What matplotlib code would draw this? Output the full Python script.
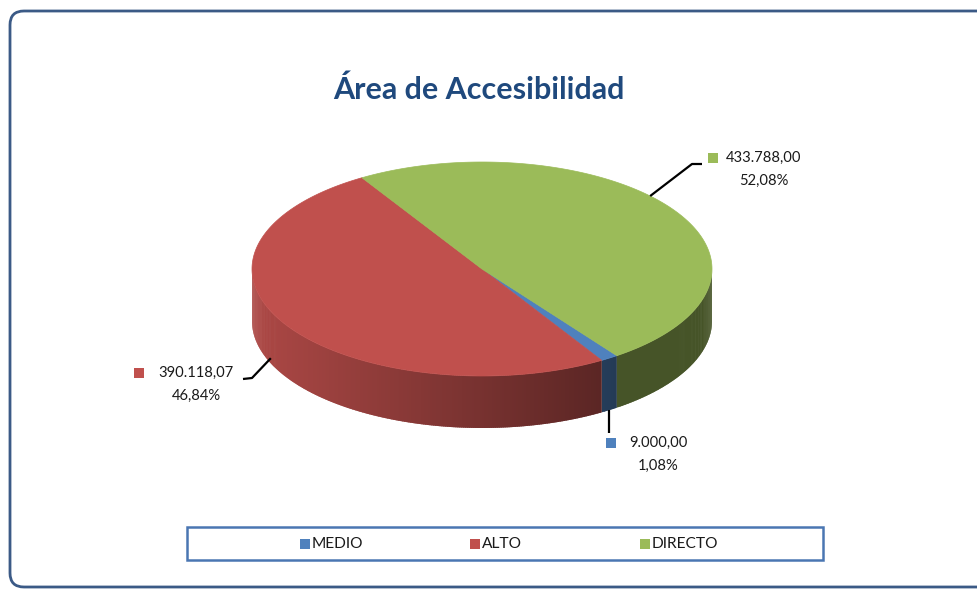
import numpy as np
import matplotlib.pyplot as plt
from matplotlib.colors import to_rgb
from matplotlib.patches import Polygon, Rectangle, FancyBboxPatch

plt.rcParams['font.family'] = ['Lato', 'DejaVu Sans']

titulo = 'Área de Accesibilidad'
categorias = ['MEDIO', 'ALTO', 'DIRECTO']
valores = [9000.00, 390118.07, 433788.00]
colores = ['#4F81BD', '#C0504D', '#9BBB59']

# geometria del pastel 3d (en pixeles)
cx, cy, rx, ry, prof = 482, 269, 230, 107, 52
inicio = 300.5   # angulo donde empieza MEDIO, sentido horario
k = 0.185        # deformacion de perspectiva


def warp(th):
    r = np.radians(th)
    return np.degrees(r + k * np.cos(r))


def borde(t, dz=0.0):
    r = np.radians(t)
    return cx + rx * np.cos(r), cy - ry * np.sin(r) + dz


def fmt_num(v):
    s = f"{v:,.2f}"
    return s.replace(',', 'X').replace('.', ',').replace('X', '.')


def fmt_pct(p):
    return f"{p * 100:.2f}".replace('.', ',') + '%'


fig = plt.figure(figsize=(9.78, 5.90), dpi=100)
ax = fig.add_axes([0, 0, 1, 1])
ax.set_xlim(0, 978)
ax.set_ylim(590, 0)
ax.axis('off')

# marco exterior
ax.add_patch(FancyBboxPatch((10, 11), 1000, 576, boxstyle='round,pad=0,rounding_size=14',
                            fc='white', ec='#3B5A86', lw=2.0, zorder=0))

total = sum(valores)
rangos = []
acum = inicio
for v in valores:
    th1 = acum
    th2 = acum - v / total * 360
    rangos.append((th2, th1))
    acum = th2

# paredes laterales (solo la mitad frontal), franjas solapadas para evitar costuras
for (th2, th1), col in zip(rangos, colores):
    t2, t1 = warp(th2), warp(th1)
    base = np.array(to_rgb(col))
    ts = np.linspace(t2, t1, max(int(abs(t1 - t2) * 2), 2))
    paso = ts[1] - ts[0]
    for ta, tb in zip(ts[:-1], ts[1:]):
        tm = (ta + tb) / 2
        if np.sin(np.radians(tm)) >= 0:
            continue
        f = max(0.45, 0.9 - 0.42 * (1 + np.cos(np.radians(tm))) / 1.5)
        c = np.clip(base * f, 0, 1)
        tb2 = min(tb + paso * 0.8, t1)
        seg = np.linspace(ta, tb2, 4)
        arriba = [borde(t) for t in seg]
        abajo = [borde(t, prof) for t in seg[::-1]]
        ax.add_patch(Polygon(arriba + abajo, closed=True, fc=c, ec='none', zorder=2))

# caras superiores
for (th2, th1), col in zip(rangos, colores):
    ts = np.linspace(warp(th2), warp(th1), 200)
    pts = [(cx, cy)] + [borde(t) for t in ts]
    ax.add_patch(Polygon(pts, closed=True, fc=col, ec=col, lw=0.5, zorder=3))

# etiquetas de datos
etiquetas = {
    'MEDIO': dict(tx=658, ty=443, sq=606, dz=prof, guia=[('v', 433)]),
    'ALTO': dict(tx=196, ty=373, sq=134, dz=prof * 0.9, guia=[(252, 378), (243, 379)]),
    'DIRECTO': dict(tx=764, ty=158, sq=708, dz=0, guia=[(692, 164), (702, 164)]),
}
for cat, v, (th2, th1), col in zip(categorias, valores, rangos, colores):
    e = etiquetas[cat]
    t = warp((th1 + th2) / 2)
    x0, y0 = borde(t, e['dz'])
    xs, ys = [x0], [y0]
    for p in e['guia']:
        if p[0] == 'v':
            xs.append(x0)
            ys.append(p[1])
        else:
            xs.append(p[0])
            ys.append(p[1])
    ax.plot(xs, ys, color='black', lw=1.6, zorder=4, solid_capstyle='butt')
    ax.add_patch(Rectangle((e['sq'], e['ty'] - 5), 10, 10, fc=col, ec='none', zorder=4))
    ax.text(e['tx'], e['ty'], fmt_num(v), ha='center', va='center', fontsize=10.6,
            color='#1a1a1a', zorder=5)
    ax.text(e['tx'], e['ty'] + 23, fmt_pct(v / total), ha='center', va='center', fontsize=10.6,
            color='#1a1a1a', zorder=5)

# titulo
ax.text(479, 90, titulo, ha='center', va='center', fontsize=22, fontweight='bold',
        color='#1F497D')

# leyenda
ax.add_patch(Rectangle((187, 527), 636, 33, fc='white', ec='#4A76B2', lw=1.8, zorder=4))
for i, (cat, col) in enumerate(zip(categorias, colores)):
    x = 300 + i * 170
    ax.add_patch(Rectangle((x, 539), 10, 10, fc=col, ec='none', zorder=5))
    ax.text(x + 12, 544.5, cat, ha='left', va='center', fontsize=11.2, color='#1a1a1a', zorder=5)

fig.savefig('out.png', dpi=100)
